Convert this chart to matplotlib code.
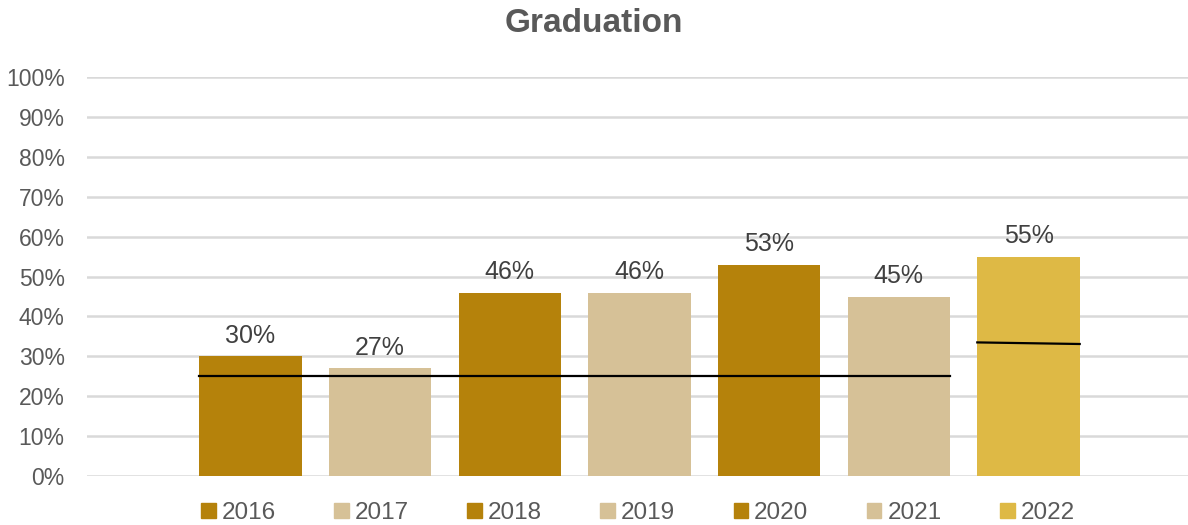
import matplotlib.pyplot as plt
import numpy as np

years = ['2016', '2017', '2018', '2019', '2020', '2021', '2022']
rates = [0.30, 0.27, 0.46, 0.46, 0.53, 0.45, 0.55]
colors = ['#B5820B', '#D6C197', '#B5820B', '#D6C197', '#B5820B', '#D6C197', '#DEB945']
# black reference lines
base_line = 0.25
line_2022 = 0.333

plt.rcParams['font.family'] = ['Liberation Sans', 'DejaVu Sans']

fig = plt.figure(figsize=(11.88, 5.25), dpi=100)
ax = fig.add_axes([0.0732, 0.0933, 0.9268, 0.7597])

x = np.arange(len(years))
bars = ax.bar(x, rates, width=0.79, color=colors, zorder=2)
for xi, r in zip(x, rates):
    ax.annotate(f'{r*100:.0f}%', (xi, r), xytext=(0, 6), textcoords='offset points',
                ha='center', va='bottom', fontsize=18, color='#404040')

ax.plot([-0.395, 5.395], [base_line, base_line], color='black', lw=1.6, zorder=3)
ax.plot([5.605, 6.395], [line_2022 + 0.002, line_2022 - 0.002], color='black', lw=1.6, zorder=3)

ax.set_xlim(-1.26, 7.23)
ax.set_ylim(0, 1)
ax.set_yticks(np.arange(0, 1.01, 0.1))
ax.yaxis.set_major_formatter(plt.FuncFormatter(lambda v, p: f'{v*100:.0f}%'))
ax.tick_params(axis='y', length=0, pad=16, labelsize=16.5, labelcolor='#595959')
ax.set_xticks([])
ax.grid(axis='y', color='#D9D9D9', lw=1.8, zorder=0)
ax.set_axisbelow(True)
for s in ax.spines.values():
    s.set_visible(False)

fig.text(0.5, 0.955, 'Graduation', ha='center', va='center', fontsize=24, fontweight='bold',
         color='#595959')

handles = [plt.Rectangle((0, 0), 1, 1, color=c) for c in colors]
fig.legend(handles, years, loc='center', bbox_to_anchor=(0.537, 0.023), ncol=7, frameon=False,
           fontsize=17.5, labelcolor='#595959', handlelength=0.6, handleheight=0.6,
           handletextpad=0.25, columnspacing=2.4)

fig.savefig('out.png', dpi=100)
